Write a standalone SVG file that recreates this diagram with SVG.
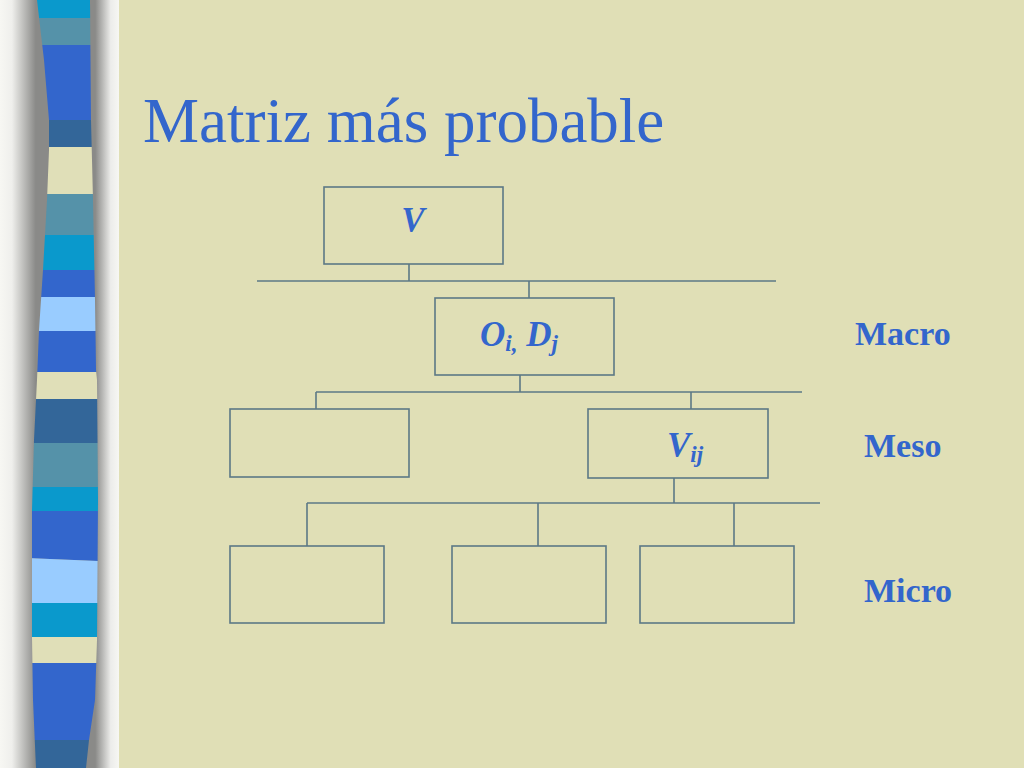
<svg xmlns="http://www.w3.org/2000/svg" width="1024" height="768" viewBox="0 0 1024 768">
<defs>
<linearGradient id="shadow" x1="0" y1="0" x2="119" y2="0" gradientUnits="userSpaceOnUse">
<stop offset="0" stop-color="#f7f7f3"/>
<stop offset="0.1" stop-color="#efefec"/>
<stop offset="0.3" stop-color="#8a8a88"/>
<stop offset="0.8" stop-color="#8a8a88"/>
<stop offset="0.93" stop-color="#ececea"/>
<stop offset="1" stop-color="#f7f7f3"/>
</linearGradient>
<clipPath id="stripClip">
<path d="M37,0 L44,60 L49,120 L49,150 L47,200 L43,270 L39,330 L37,380 L34,440 L32,510 L32,560 L32,637 L33,700 L36,768 L86,768 L89,740 L95,700 L97,640 L98,500 L97,380 L96,370 L95,300 L93,200 L91,120 L90,0 Z"/>
</clipPath>
<style>
.ln{stroke:#5c7886;stroke-width:1.6;fill:none}
.bx{stroke:#5c7886;stroke-width:1.6;fill:none}
.lbl{font-family:"Liberation Serif","Times New Roman",serif;font-weight:bold;fill:#3366cc}
.it{font-style:italic}
</style>
</defs>
<rect x="0" y="0" width="1024" height="768" fill="#e0dfb6"/>
<rect x="0" y="0" width="119" height="768" fill="url(#shadow)"/>
<g clip-path="url(#stripClip)">
<rect x="0" y="0" width="120" height="18" fill="#0a99cc"/>
<rect x="0" y="18" width="120" height="27" fill="#5592a9"/>
<rect x="0" y="45" width="120" height="75" fill="#3366cc"/>
<rect x="0" y="120" width="120" height="27" fill="#336699"/>
<rect x="0" y="147" width="120" height="47" fill="#e0dfb8"/>
<rect x="0" y="194" width="120" height="41" fill="#5592a9"/>
<rect x="0" y="235" width="120" height="35" fill="#0a99cc"/>
<rect x="0" y="270" width="120" height="27" fill="#3366cc"/>
<rect x="0" y="297" width="120" height="34" fill="#99ccff"/>
<rect x="0" y="331" width="120" height="41" fill="#3366cc"/>
<rect x="0" y="372" width="120" height="27" fill="#e0dfb8"/>
<rect x="0" y="399" width="120" height="44" fill="#336699"/>
<rect x="0" y="443" width="120" height="44" fill="#5592a9"/>
<rect x="0" y="487" width="120" height="24" fill="#0a99cc"/>
<polygon points="0,511 120,511 120,562 0,557" fill="#3366cc"/>
<polygon points="0,557 120,562 120,603 0,603" fill="#99ccff"/>
<rect x="0" y="603" width="120" height="34" fill="#0a99cc"/>
<rect x="0" y="637" width="120" height="26" fill="#e0dfb8"/>
<rect x="0" y="663" width="120" height="77" fill="#3366cc"/>
<rect x="0" y="740" width="120" height="28" fill="#336699"/>
</g>
<text x="143" y="142" font-family="'Liberation Serif','Times New Roman',serif" font-size="63" fill="#3366cc">Matriz más probable</text>
<g id="connectors">
<line class="ln" x1="409" y1="264" x2="409" y2="281"/>
<line class="ln" x1="257" y1="281" x2="776" y2="281"/>
<line class="ln" x1="529" y1="281" x2="529" y2="298"/>
<line class="ln" x1="520" y1="375" x2="520" y2="392"/>
<line class="ln" x1="316" y1="392" x2="802" y2="392"/>
<line class="ln" x1="316" y1="392" x2="316" y2="409"/>
<line class="ln" x1="691" y1="392" x2="691" y2="409"/>
<line class="ln" x1="674" y1="478" x2="674" y2="503"/>
<line class="ln" x1="307" y1="503" x2="820" y2="503"/>
<line class="ln" x1="307" y1="503" x2="307" y2="546"/>
<line class="ln" x1="538" y1="503" x2="538" y2="546"/>
<line class="ln" x1="734" y1="503" x2="734" y2="546"/>
</g>
<g id="node-v">
<rect class="bx" x="324" y="187" width="179" height="77"/>
<text class="lbl it" x="413" y="232" font-size="35" text-anchor="middle">V</text>
</g>
<g id="node-oidj">
<rect class="bx" x="435" y="298" width="179" height="77"/>
<text class="lbl it" x="480" y="346" font-size="35">O<tspan dy="5" font-size="23">i</tspan><tspan font-size="23">,</tspan><tspan dy="-5"> D</tspan><tspan dy="5" font-size="23">j</tspan></text>
</g>
<g id="node-meso-left">
<rect class="bx" x="230" y="409" width="179" height="68"/>
</g>
<g id="node-vij">
<rect class="bx" x="588" y="409" width="180" height="69"/>
<text class="lbl it" x="667" y="457" font-size="35">V<tspan dy="5" font-size="23">ij</tspan></text>
</g>
<g id="node-micro-1">
<rect class="bx" x="230" y="546" width="154" height="77"/>
</g>
<g id="node-micro-2">
<rect class="bx" x="452" y="546" width="154" height="77"/>
</g>
<g id="node-micro-3">
<rect class="bx" x="640" y="546" width="154" height="77"/>
</g>
<g id="labels">
<text class="lbl" x="855" y="345" font-size="34">Macro</text>
<text class="lbl" x="864" y="457" font-size="34">Meso</text>
<text class="lbl" x="864" y="602" font-size="34">Micro</text>
</g>
</svg>
